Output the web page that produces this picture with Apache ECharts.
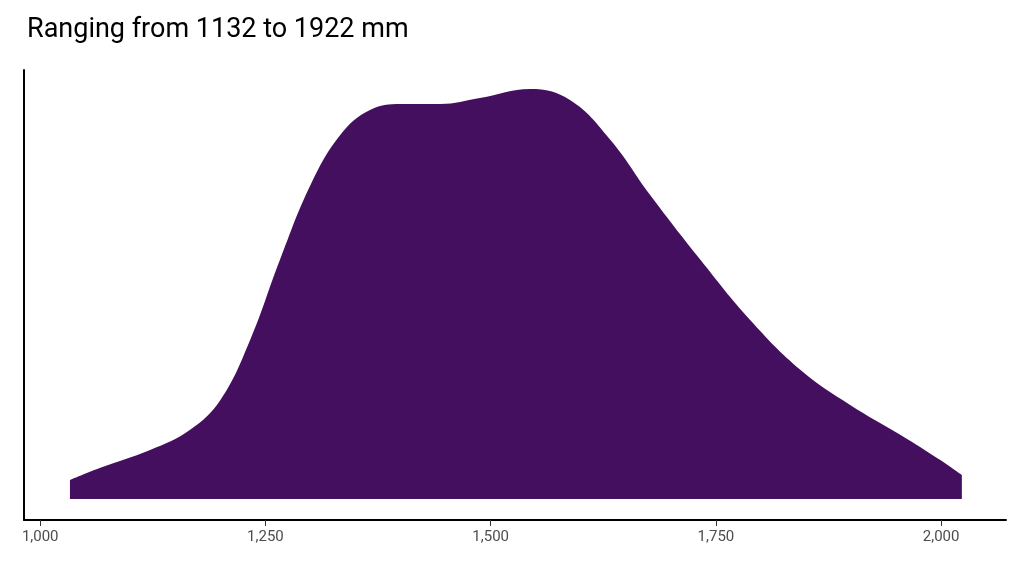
<!DOCTYPE html>
<html><head><meta charset="utf-8">
<script src="https://cdn.jsdelivr.net/npm/echarts@6/dist/echarts.min.js"></script>
<style>html,body{margin:0;padding:0;background:#fff}#c{width:1024px;height:576px}</style>
</head><body><div id="c"></div>
<script>
const xs = [1033,1066,1122,1166,1200,1233,1266,1300,1333,1366,1400,1444,1488,1544,1588,1633,1677,1733,1788,1844,1899,1955,1999,2023];
const ys = [19,31,49,69,99,159,239,314,364,389,395,395,401,410,399,359,304,239,179,129,94,64,39,24];
const ticks = [1000,1250,1500,1750,2000];
const chart = echarts.init(document.getElementById('c'));
chart.setOption({
  animation:false,
  title:{text:'Ranging from 1132 to 1922 mm',left:22,top:12,textStyle:{fontFamily:'Roboto',fontSize:27,fontWeight:'normal',color:'#000'}},
  grid:{left:24,right:18,top:70,bottom:56},
  xAxis:{type:'value',min:982,max:2072,splitLine:{show:false},
    axisLine:{onZero:false,lineStyle:{color:'#000',width:2}},
    axisTick:{customValues:ticks,length:6,lineStyle:{color:'#333'}},
    axisLabel:{customValues:ticks,color:'#4d4d4d',fontSize:15,fontFamily:'Roboto',margin:10}},
  yAxis:{type:'value',min:-21,max:429,splitLine:{show:false},axisLabel:{show:false},axisTick:{show:false},
    axisLine:{show:true,lineStyle:{color:'#000',width:2}}},
  series:[{type:'line',data:xs.map((x,i)=>[x,ys[i]]),smooth:0.4,symbol:'none',
    lineStyle:{width:0},areaStyle:{color:'#440f5e',opacity:1,origin:0}}]
});
</script></body></html>
